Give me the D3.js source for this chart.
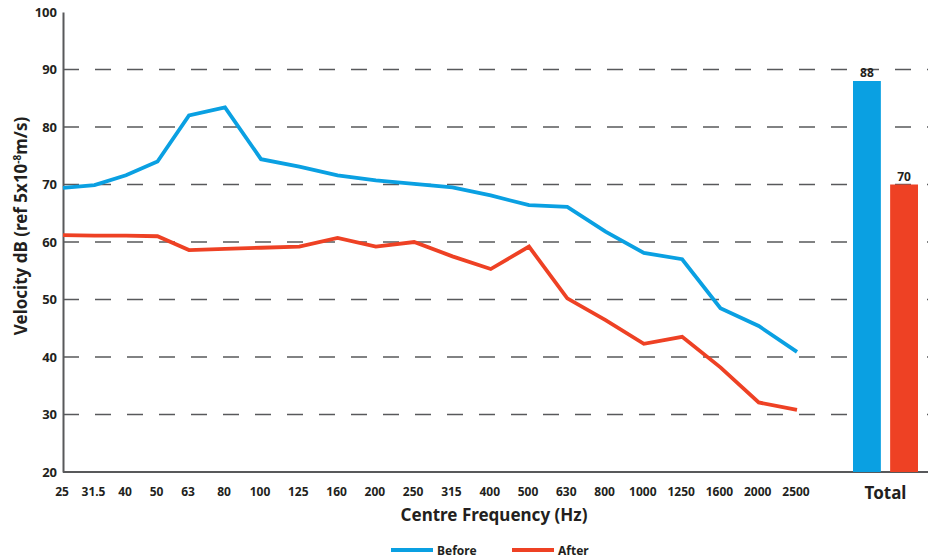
<!DOCTYPE html>
<html>
<head>
<meta charset="utf-8">
<script src="https://cdn.jsdelivr.net/npm/d3@7"></script>
<style>
  html, body { margin: 0; padding: 0; background: #fff; }
  svg { display: block; }
  text { font-family: "Noto Sans", "Open Sans", sans-serif; font-weight: bold; fill: #231f20; }
</style>
</head>
<body>
<svg id="chart" width="928" height="560"></svg>
<script>
// ---- data ----
const frequencies = ["25","31.5","40","50","63","80","100","125","160","200","250","315","400","500","630","800","1000","1250","1600","2000","2500"];
const beforeValues = [69.4, 69.9, 71.6, 74.0, 82.0, 83.4, 74.4, 73.1, 71.6, 70.7, 70.1, 69.5, 68.1, 66.4, 66.1, 61.8, 58.1, 57.0, 48.5, 45.4, 40.9];
const afterValues  = [61.2, 61.1, 61.1, 61.0, 58.6, 58.8, 59.0, 59.2, 60.7, 59.2, 60.0, 57.5, 55.3, 59.2, 50.2, 46.4, 42.3, 43.5, 38.2, 32.1, 30.8];
const seriesNames = ["Before", "After"];
const totalValues = [88, 70];
const yTicks = [20, 30, 40, 50, 60, 70, 80, 90, 100];
const colors = { Before: "#0aa0e2", After: "#ee4124" };

// ---- layout ----
const svg = d3.select("#chart");
const mLeft = 63, mRight = 928, mTop = 12, mBottom = 472;

const y = d3.scaleLinear().domain([20, 100]).range([mBottom, mTop]);
// category index -> x (uneven spacing as in the original artwork)
const xi = d3.scaleLinear().domain([0, 4, 6, frequencies.length - 1]).range([mLeft, 189, 261, 797]);
const x = f => xi(frequencies.indexOf(f));

const xb = d3.scaleBand().domain(seriesNames).range([853, 918]).paddingInner(0.25).paddingOuter(0);

// grid lines (dashed)
svg.append("g").selectAll("line")
  .data(yTicks.filter(t => t > 20 && t < 100))
  .join("line")
  .attr("x1", mLeft).attr("x2", mRight)
  .attr("y1", d => y(d)).attr("y2", d => y(d))
  .attr("stroke", "#58595b").attr("stroke-width", 1.6)
  .attr("stroke-dasharray", "16,16");

// y axis
const yAxis = d3.axisLeft(y).tickValues(yTicks).tickSize(0).tickPadding(6);
const gy = svg.append("g").attr("transform", `translate(${mLeft},0)`).call(yAxis);
gy.select(".domain").attr("stroke", "#58595b").attr("stroke-width", 2);
gy.selectAll("text").style("font-size", "13px").style("font-weight", "bold").attr("fill", "#231f20")
  .style("font-family", "'Noto Sans', 'Open Sans', sans-serif");

// x axis baseline
svg.append("line").attr("x1", mLeft).attr("x2", mRight).attr("y1", mBottom).attr("y2", mBottom)
  .attr("stroke", "#58595b").attr("stroke-width", 2);

// x tick labels
svg.append("g").selectAll("text")
  .data(frequencies).join("text")
  .attr("x", d => x(d) - 1).attr("y", mBottom + 24)
  .attr("text-anchor", "middle").style("font-size", "12px")
  .text(d => d);

// total bars
svg.append("g").selectAll("rect")
  .data(seriesNames).join("rect")
  .attr("x", d => xb(d)).attr("width", xb.bandwidth())
  .attr("y", (d, i) => y(totalValues[i]))
  .attr("height", (d, i) => mBottom - y(totalValues[i]))
  .attr("fill", d => colors[d]);
svg.append("g").selectAll("text")
  .data(seriesNames).join("text")
  .attr("x", d => xb(d) + xb.bandwidth() / 2)
  .attr("y", (d, i) => y(totalValues[i]) - 4)
  .attr("text-anchor", "middle").style("font-size", "12px")
  .text((d, i) => totalValues[i]);
svg.append("text").attr("x", (xb("Before") + xb("After") + xb.bandwidth()) / 2).attr("y", mBottom + 27)
  .attr("text-anchor", "middle").style("font-size", "17px").text("Total");

// lines
const line = d3.line().x((d, i) => xi(i)).y(d => y(d));
[["Before", beforeValues], ["After", afterValues]].forEach(([name, vals]) => {
  svg.append("path").datum(vals)
    .attr("d", line)
    .attr("fill", "none")
    .attr("stroke", colors[name])
    .attr("stroke-width", 3.8)
    .attr("stroke-linejoin", "miter");
});

// axis titles
svg.append("text").attr("x", 494).attr("y", 521).attr("text-anchor", "middle")
  .style("font-size", "17px").text("Centre Frequency (Hz)");
const yt = svg.append("text")
  .attr("transform", `translate(27,226) rotate(-90)`)
  .attr("text-anchor", "middle").style("font-size", "17px");
yt.append("tspan").text("Velocity dB (ref 5x10");
yt.append("tspan").attr("dy", -6).style("font-size", "10px").text("-8");
yt.append("tspan").attr("dy", 6).text("m/s)");

// legend
const legend = svg.append("g");
const legendX = { Before: 391, After: 512 };
seriesNames.forEach(name => {
  const g = legend.append("g").attr("transform", `translate(${legendX[name]},550)`);
  g.append("line").attr("x1", 0).attr("x2", 42).attr("y1", 0).attr("y2", 0)
    .attr("stroke", colors[name]).attr("stroke-width", 4);
  g.append("text").attr("x", 46).attr("y", 5).style("font-size", "12px").text(name);
});
</script>
</body>
</html>
